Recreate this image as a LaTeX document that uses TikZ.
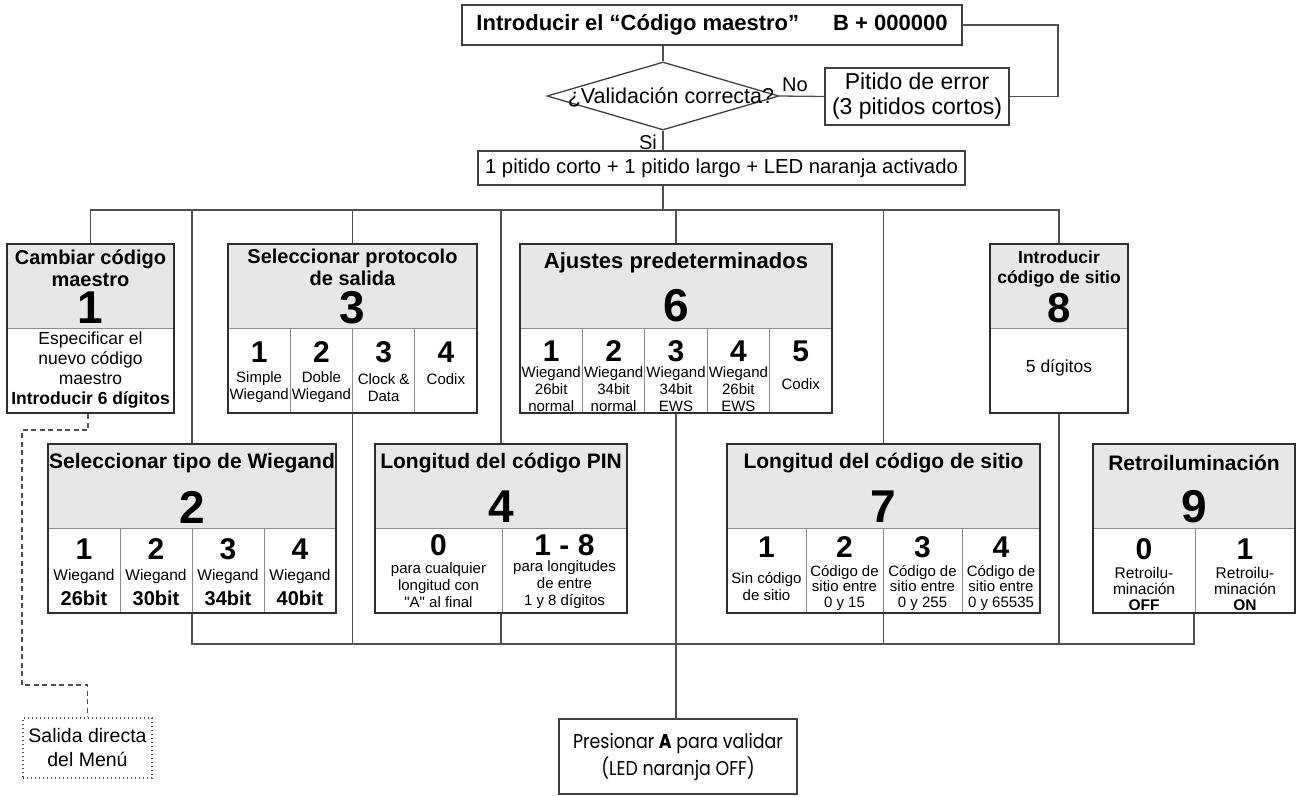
\documentclass[tikz,border=0pt]{standalone}
\usepackage{fontspec}
\setmainfont{Liberation Sans}
\newfontfamily\rawsans[Ligatures=ResetAll]{Liberation Sans}
\newfontfamily\gothicfont[FakeStretch=0.87]{Poppins}
\usetikzlibrary{shapes.geometric}

\definecolor{hdrgray}{HTML}{E6E7E8}
\definecolor{panelline}{HTML}{2E2E2E}
\definecolor{boxline}{HTML}{404040}
\definecolor{wirecol}{HTML}{505050}
\definecolor{cellline}{HTML}{8C8C8C}

\newcommand{\fsz}[2]{\fontsize{#1}{#2}\selectfont}
\newcommand{\straightq}{{\rawsans"}}

% grey header band, header rule and outer frame of one menu panel
% #1 name, #2 left, #3 top, #4 right, #5 header bottom, #6 bottom
\newcommand{\menupanel}[6]{%
  \fill[hdrgray] (#2,#3) rectangle (#4,#5);
  \draw[divline] (#2,#5) -- (#4,#5);
  \node[panelframe, minimum width={(#4-#2)*1pt}, minimum height={(#6-#3)*1pt}]
    (#1) at ({(#2+#4)/2},{(#3+#6)/2}) {};
}

\tikzset{
  wire/.style={draw=wirecol, line width=1.3pt},
  dashedwire/.style={draw=wirecol, line width=1.3pt, dash pattern=on 5pt off 3.5pt},
  panelframe/.style={draw=panelline, line width=2pt, inner sep=0pt},
  plainbox/.style={draw=boxline, line width=1.5pt, inner sep=0pt, fill=white},
  divline/.style={draw=cellline, line width=1pt},
  hdr/.style={font=\bfseries\fsz{21}{23}, align=center, inner sep=0pt},
  bignum/.style={font=\bfseries\fsz{46}{46}, inner sep=0pt},
  celldigit/.style={font=\bfseries\fsz{30}{30}, inner sep=0pt},
  celltext/.style={font=\fsz{15}{17}, align=center, inner sep=0pt},
  cellbold/.style={font=\bfseries\fsz{20}{22}, inner sep=0pt},
  flowtext/.style={font=\fsz{20}{24}, inner sep=0pt}
}

\begin{document}
\begin{tikzpicture}[x=1pt, y=-1pt]
\useasboundingbox (0,0) rectangle (1297,796);
\fill[white] (0,0) rectangle (1297,796);

\coordinate (ytop) at (0,210);
\coordinate (ybot) at (0,644);
\coordinate (loopx) at (1058,0);
\coordinate (dashturn) at (22,685);

% ---------- entry of the master code ----------
\node[plainbox, minimum width=500pt, minimum height=40pt, font=\bfseries\fsz{22}{26}]
  (top) at (712,25) {Introducir el “Código maestro”\hspace{34pt}B + 000000};
\node[diamond, draw=boxline, line width=1.3pt, minimum width=232pt, minimum height=68pt,
  inner sep=0pt, fill=white] (dia) at (663,96) {};
\node[flowtext, font=\fsz{21.5}{24}] (diatxt) at (671,97) {¿Validación correcta?};
\node[plainbox, minimum width=184pt, minimum height=57pt, align=center, font=\fsz{23}{25}]
  (err) at (917,96.5) {Pitido de error\\(3 pitidos cortos)};
\node[plainbox, minimum width=487pt, minimum height=34pt, font=\fsz{20.3}{24}]
  (led) at (721.5,168) {1 pitido corto + 1 pitido largo + LED naranja activado};
\node[flowtext] (si) at (648,142) {Si};
\node[flowtext] (no) at (795,85) {No};

\draw[wire] (dia.north |- top.south) -- (dia.north);
\draw[wire] (dia.east) -- (err.west);
\draw[wire] (top.east) -- (top.east -| loopx) |- (err.east);
\draw[wire] (dia.south) -- (dia.south |- led.north);

% ---------- panel 1 ----------
\menupanel{b1}{7}{244}{174}{328}{413}
\node[hdr, font=\bfseries\fsz{20}{22}] (b1h) at (90.5,268.5) {Cambiar código\\maestro};
\node[bignum] (b1n) at (90.5,308) {1};
\node[celltext, font=\fsz{17.5}{20}] (b1t) at (90.5,370)
  {Especificar el\\nuevo código\\maestro\\\textbf{Introducir 6 dígitos}};

% ---------- panel 3 ----------
\menupanel{b3}{228}{244}{477}{328}{413}
\foreach \x in {290.25,352.5,414.75} \draw[divline] (\x,328) -- (\x,412);
\node[hdr, font=\bfseries\fsz{20}{22}] (b3h) at (352.5,267) {Seleccionar protocolo\\de salida};
\node[bignum] (b3n) at (352.5,308) {3};
\foreach \i/\cx in {1/259.1,2/321.4,3/383.6,4/445.9}
  \node[celldigit] (b3d\i) at (\cx,352) {\i};
\node[celltext] (b3t1) at (259.1,387.5) {Simple\\Wiegand};
\node[celltext] (b3t2) at (321.4,387.5) {Doble\\Wiegand};
\node[celltext] (b3t3) at (383.6,387.5) {Clock \&\\Data};
\node[celltext] (b3t4) at (445.9,379) {Codix};

% ---------- panel 6 ----------
\menupanel{b6}{520}{244}{832}{328}{413}
\foreach \x in {582.4,644.8,707.2,769.6} \draw[divline] (\x,328) -- (\x,412);
\node[hdr, font=\bfseries\fsz{22}{24}] (b6h) at (676,263) {Ajustes predeterminados};
\node[bignum] (b6n) at (676,306) {6};
\foreach \i/\cx in {1/551.2,2/613.6,3/676,4/738.4,5/800.8}
  \node[celldigit] (b6d\i) at (\cx,351) {\i};
\node[celltext] (b6t1) at (551.2,389) {Wiegand\\26bit\\normal};
\node[celltext] (b6t2) at (613.6,389) {Wiegand\\34bit\\normal};
\node[celltext] (b6t3) at (676,389) {Wiegand\\34bit\\EWS};
\node[celltext] (b6t4) at (738.4,389) {Wiegand\\26bit\\EWS};
\node[celltext] (b6t5) at (800.8,384) {Codix};

% ---------- panel 8 ----------
\menupanel{b8}{990}{244}{1128}{328}{413}
\node[hdr, font=\bfseries\fsz{17.5}{20}] (b8h) at (1059,269) {Introducir\\código de sitio};
\node[bignum, font=\bfseries\fsz{42}{42}] (b8n) at (1059,308) {8};
\node[celltext, font=\fsz{17.5}{20}] (b8t) at (1059,368) {5 dígitos};

% ---------- panel 2 ----------
\menupanel{b2}{48}{444}{336}{528}{613}
\foreach \x in {120,192,264} \draw[divline] (\x,528) -- (\x,612);
\node[hdr] (b2h) at (192,463) {Seleccionar tipo de Wiegand};
\node[bignum] (b2n) at (192,507) {2};
\foreach \i/\bits in {1/26,2/30,3/34,4/40} {
  \node[celldigit] (b2d\i) at ({48+72*(\i-0.5)},549) {\i};
  \node[celltext, font=\fsz{15.5}{17}] (b2t\i) at ({48+72*(\i-0.5)},576) {Wiegand};
  \node[cellbold] (b2b\i) at ({48+72*(\i-0.5)},598) {\bits bit};
}

% ---------- panel 4 ----------
\menupanel{b4}{375}{444}{627}{528}{613}
\draw[divline] (502,528) -- (502,612);
\node[hdr] (b4h) at (501,463) {Longitud del código PIN};
\node[bignum] (b4n) at (501,507) {4};
\node[celldigit] (b4d0) at (438.5,545) {0};
\node[celldigit] (b4d1) at (564.5,545) {1 - 8};
\node[celltext] (b4t0) at (438.5,585) {para cualquier\\longitud con\\\straightq A\straightq{} al final};
\node[celltext] (b4t1) at (564.5,585) {para longitudes\\de entre\\1 y 8 dígitos};

% ---------- panel 7 ----------
\menupanel{b7}{727}{444}{1040}{528}{613}
\foreach \x in {806,883,962} \draw[divline] (\x,528) -- (\x,612);
\node[hdr] (b7h) at (883.5,463) {Longitud del código de sitio};
\node[bignum] (b7n) at (883.5,507) {7};
\foreach \i/\cx in {1/766.5,2/844.5,3/922.5,4/1001}
  \node[celldigit] (b7d\i) at (\cx,547) {\i};
\node[celltext] (b7t1) at (766.5,587) {Sin código\\de sitio};
\node[celltext, font=\fsz{15}{15.5}] (b7t2) at (844.5,588) {Código de\\sitio entre\\0 y 15};
\node[celltext, font=\fsz{15}{15.5}] (b7t3) at (922.5,588) {Código de\\sitio entre\\0 y 255};
\node[celltext, font=\fsz{15}{15.5}] (b7t4) at (1001,588) {Código de\\sitio entre\\0 y 65535};

% ---------- panel 9 ----------
\menupanel{b9}{1093}{444}{1295}{528}{613}
\draw[divline] (1195,528) -- (1195,612);
\node[hdr] (b9h) at (1194,463) {Retroiluminación};
\node[bignum] (b9n) at (1194,507) {9};
\node[celldigit] (b9d0) at (1144,549) {0};
\node[celldigit] (b9d1) at (1245,549) {1};
\node[celltext, font=\fsz{15.5}{16}] (b9t0) at (1144,589) {Retroilu-\\minación\\\textbf{OFF}};
\node[celltext, font=\fsz{15.5}{16}] (b9t1) at (1245,589) {Retroilu-\\minación\\\textbf{ON}};

% ---------- exits ----------
\node[plainbox, minimum width=238pt, minimum height=75pt, align=center, font=\gothicfont\fsz{20}{27}]
  (press) at (678,756.5) {Presionar \textbf{A} para validar\\(LED naranja OFF)};
\node[draw=wirecol, line width=1.2pt, dash pattern=on 1.3pt off 2.7pt, minimum width=129pt,
  minimum height=60pt, inner sep=0pt, align=center, font=\fsz{19.5}{24}]
  (salida) at (87.5,748) {Salida directa\\del Menú};

% ---------- buses ----------
\draw[wire] (dia.south |- led.south) -- (dia.south |- ytop);
\draw[wire] (b1.north) |- (b8.north |- ytop) -- (b8.north);
\foreach \b in {b2,b3,b4,b6,b7} \draw[wire] (\b.north) -- (\b.north |- ytop);
\draw[wire] (b2.south) |- (b9.south |- ybot) -- (b9.south);
\foreach \b in {b3,b4,b7,b8} \draw[wire] (\b.south) -- (\b.south |- ybot);
\draw[wire] (b6.south) -- (b6.south |- press.north);
\draw[dashedwire] ([xshift=-2.5pt]b1.south) -- ++(0,16) -| (dashturn) -| (salida.north);

\end{tikzpicture}
\end{document}
